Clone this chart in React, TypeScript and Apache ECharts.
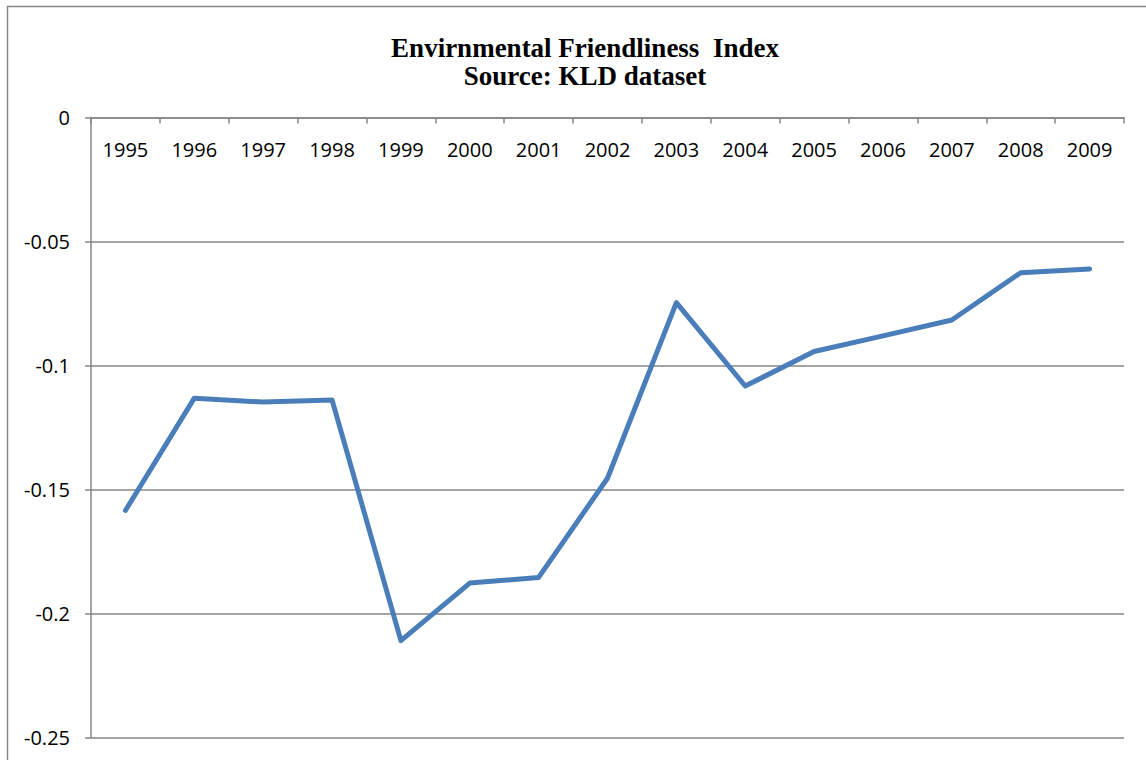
import React, { useEffect, useRef } from "react";
import * as echarts from "echarts";

const years: string[] = [
  "1995", "1996", "1997", "1998", "1999", "2000", "2001", "2002",
  "2003", "2004", "2005", "2006", "2007", "2008", "2009",
];

const indexValues: number[] = [
  -0.1585, -0.1132, -0.1148, -0.1139, -0.211, -0.1878, -0.1855, -0.1455,
  -0.0747, -0.1083, -0.0944, -0.0881, -0.0817, -0.0626, -0.0611,
];

const yMin = -0.25;
const yMax = 0;
const yInterval = 0.05;

const titleLines: string[] = ["Envirnmental Friendliness  Index", "Source: KLD dataset"];

export default function App() {
  const ref = useRef<HTMLDivElement>(null);

  useEffect(() => {
    if (!ref.current) return;
    const chart = echarts.init(ref.current, null, { renderer: "svg" });
    const gray = "#868686";
    const labelFont = "'Open Sans', 'Noto Sans', sans-serif";
    chart.setOption({
      animation: false,
      backgroundColor: "#ffffff",
      title: {
        text: titleLines.join("\n"),
        left: 580,
        top: 29,
        textAlign: "center",
        textStyle: {
          fontFamily: "'Liberation Serif', serif",
          fontWeight: "bold",
          fontSize: 27,
          lineHeight: 28,
          color: "#000000",
        },
      },
      graphic: [
        {
          type: "rect",
          shape: { x: 7.5, y: 6.5, width: 1300, height: 1000 },
          style: { fill: "none", stroke: gray, lineWidth: 1.5 },
          silent: true,
          z: -1,
        },
      ],
      grid: {
        left: 91,
        right: 22,
        top: 117.5,
        bottom: 22.7,
        containLabel: false,
      },
      xAxis: {
        type: "category",
        data: years,
        position: "top",
        boundaryGap: true,
        axisLine: { show: true, onZero: false, lineStyle: { color: gray, width: 1.5 } },
        axisTick: { show: true, inside: true, length: 6, lineStyle: { color: gray, width: 1.5 } },
        axisLabel: {
          inside: true,
          margin: 22,
          fontFamily: labelFont,
          fontSize: 20,
          color: "#000000",
        },
        splitLine: { show: false },
      },
      yAxis: {
        type: "value",
        min: yMin,
        max: yMax,
        interval: yInterval,
        axisLine: { show: true, lineStyle: { color: gray, width: 1.5 } },
        axisTick: { show: true, length: 6, lineStyle: { color: gray, width: 1.5 } },
        axisLabel: {
          margin: 21,
          fontFamily: labelFont,
          fontSize: 20,
          color: "#000000",
        },
        splitLine: { show: true, lineStyle: { color: gray, width: 1.5 } },
      },
      series: [
        {
          type: "line",
          data: indexValues,
          symbol: "none",
          lineStyle: { color: "#4A7EBB", width: 5, cap: "round", join: "round" },
          itemStyle: { color: "#4A7EBB" },
        },
      ],
    });
    return () => chart.dispose();
  }, []);

  return (
    <div
      ref={ref}
      style={{ position: "absolute", left: 0, top: 0, width: 1146, height: 760 }}
    />
  );
}
